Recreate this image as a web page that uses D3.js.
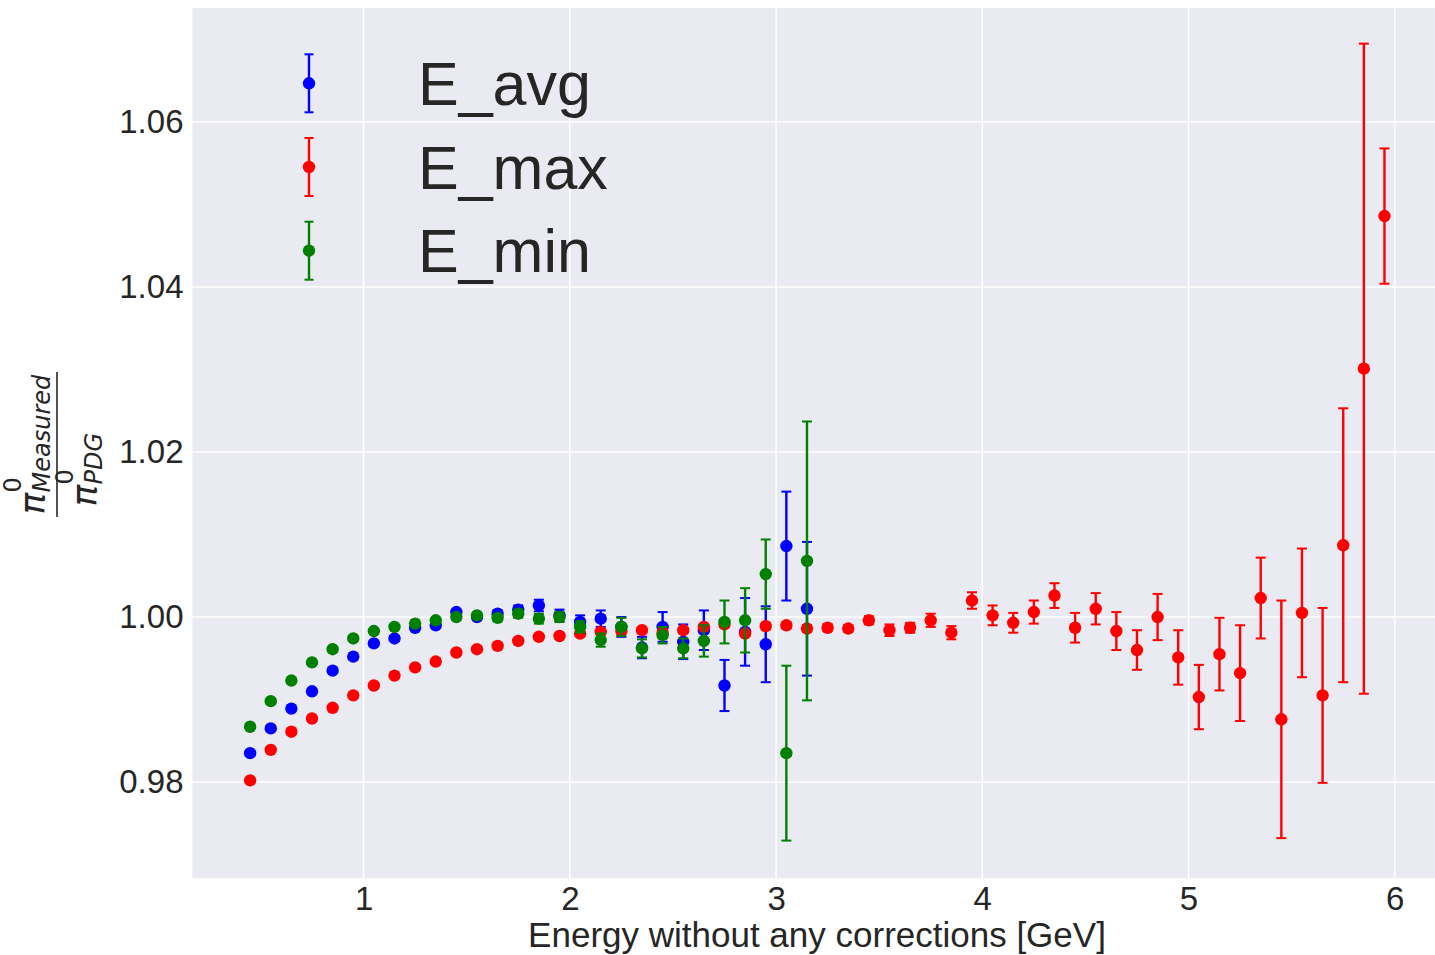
<!DOCTYPE html>
<html>
<head>
<meta charset="utf-8">
<script src="https://cdn.jsdelivr.net/npm/d3@7"></script>
<style>
  html, body { margin: 0; padding: 0; background: white; }
  svg { display: block; }
</style>
</head>
<body>
<div id="chart"></div>
<script>
// energies (GeV) of the E_avg / E_min points
var energyShort = [0.45, 0.55, 0.65, 0.75, 0.85, 0.95, 1.05, 1.15, 1.25, 1.35,
  1.45, 1.55, 1.65, 1.75, 1.85, 1.95, 2.05, 2.15, 2.25, 2.35,
  2.45, 2.55, 2.65, 2.75, 2.85, 2.95, 3.05, 3.15];

// energies (GeV) of the E_max points
var energyLong = [0.45, 0.55, 0.65, 0.75, 0.85, 0.95, 1.05, 1.15, 1.25, 1.35,
  1.45, 1.55, 1.65, 1.75, 1.85, 1.95, 2.05, 2.15, 2.25, 2.35,
  2.45, 2.55, 2.65, 2.75, 2.85, 2.95, 3.05, 3.15, 3.25, 3.35,
  3.45, 3.55, 3.65, 3.75, 3.85, 3.95, 4.05, 4.15, 4.25, 4.35,
  4.45, 4.55, 4.65, 4.75, 4.85, 4.95, 5.05, 5.15, 5.25, 5.35,
  5.45, 5.55, 5.65, 5.75, 5.85, 5.95];

var avgValues = [0.9835, 0.9865, 0.9889, 0.9910, 0.9935, 0.9952, 0.9968, 0.9974, 0.9987, 0.9990,
  1.0006, 1.0000, 1.0004, 1.0009, 1.0014, 1.0002, 0.9994, 0.9998, 0.9988, 0.9963,
  0.9988, 0.9970, 0.9984, 0.9917, 0.9982, 0.9967, 1.0086, 1.0010];
var avgErrors = [0.0002, 0.0002, 0.0002, 0.0002, 0.0002, 0.0002, 0.0002, 0.0002, 0.0002, 0.0002,
  0.0003, 0.0003, 0.0004, 0.0005, 0.0007, 0.0007, 0.0008, 0.0010, 0.0012, 0.0013,
  0.0018, 0.0021, 0.0024, 0.0031, 0.0041, 0.0046, 0.0066, 0.0081];

var maxValues = [0.9802, 0.9839, 0.9861, 0.9877, 0.9890, 0.9905, 0.9917, 0.9929, 0.9939, 0.9946,
  0.9957, 0.9961, 0.9965, 0.9971, 0.9976, 0.9977, 0.9980, 0.9982, 0.9983, 0.9984,
  0.9981, 0.9984, 0.9988, 0.9991, 0.9980, 0.9989, 0.9990, 0.9986, 0.9987, 0.9986,
  0.9996, 0.9984, 0.9987, 0.9996, 0.9981, 1.0020, 1.0002, 0.9993, 1.0006, 1.0026,
  0.9987, 1.0010, 0.9983, 0.9960, 1.0000, 0.9951, 0.9903, 0.9955, 0.9932, 1.0023,
  0.9876, 1.0005, 0.9905, 1.0087, 1.0301, 1.0486];
var maxErrors = [0.0002, 0.0002, 0.0002, 0.0002, 0.0002, 0.0002, 0.0002, 0.0002, 0.0002, 0.0002,
  0.0002, 0.0002, 0.0003, 0.0003, 0.0003, 0.0003, 0.0003, 0.0003, 0.0003, 0.0003,
  0.0003, 0.0003, 0.0003, 0.0003, 0.0003, 0.0004, 0.0004, 0.0004, 0.0004, 0.0004,
  0.0005, 0.0007, 0.0006, 0.0008, 0.0008, 0.0010, 0.0012, 0.0012, 0.0014, 0.0015,
  0.0018, 0.0019, 0.0023, 0.0024, 0.0028, 0.0033, 0.0039, 0.0044, 0.0058, 0.0049,
  0.0144, 0.0078, 0.0106, 0.0166, 0.0394, 0.0082];

var minValues = [0.9867, 0.9898, 0.9923, 0.9945, 0.9961, 0.9974, 0.9983, 0.9988, 0.9992, 0.9996,
  1.0000, 1.0002, 0.9999, 1.0004, 0.9998, 1.0000, 0.9988, 0.9972, 0.9988, 0.9962,
  0.9978, 0.9962, 0.9971, 0.9994, 0.9996, 1.0052, 0.9835, 1.0068];
var minErrors = [0.0002, 0.0002, 0.0002, 0.0002, 0.0002, 0.0002, 0.0002, 0.0002, 0.0002, 0.0002,
  0.0003, 0.0003, 0.0004, 0.0005, 0.0006, 0.0006, 0.0007, 0.0008, 0.0011, 0.0011,
  0.0010, 0.0012, 0.0019, 0.0026, 0.0039, 0.0042, 0.0106, 0.0169];

var xTicks = [1, 2, 3, 4, 5, 6];
var yTicks = [0.98, 1.00, 1.02, 1.04, 1.06];

var seriesNames = ["E_avg", "E_max", "E_min"];
var seriesColors = ["#0000ff", "#ff0000", "#008000"];

var
  WIDTH = 1435,
  HEIGHT = 955,

  // plot area, in pixels
  PLOT_LEFT = 192.5,
  PLOT_TOP = 8,
  PLOT_RIGHT = 1435,
  PLOT_BOTTOM = 878.3,

  BACKGROUND = "#eaeaf2",
  TEXT_COLOR = "#262626",
  FONT = "'Liberation Sans', Arial, sans-serif",

  MARKER_RADIUS = 6.2,
  CAP_HALF_WIDTH = 5;

var svg = d3.select("#chart").append("svg")
  .attr("width", WIDTH)
  .attr("height", HEIGHT);

svg.append("rect")
  .attr("width", WIDTH).attr("height", HEIGHT)
  .attr("fill", "white");

var x = d3.scaleLinear().domain([0.1706, 6.195]).range([PLOT_LEFT, PLOT_RIGHT]);
var y = d3.scaleLinear().domain([0.96833, 1.07382]).range([PLOT_BOTTOM, PLOT_TOP]);

svg.append("rect")
  .attr("x", PLOT_LEFT).attr("y", PLOT_TOP)
  .attr("width", PLOT_RIGHT - PLOT_LEFT)
  .attr("height", PLOT_BOTTOM - PLOT_TOP)
  .attr("fill", BACKGROUND);

// grid lines
var grid = svg.append("g").attr("stroke", "white").attr("stroke-width", 1.5);
xTicks.forEach(function(t){
  grid.append("line")
    .attr("x1", x(t)).attr("x2", x(t))
    .attr("y1", PLOT_TOP).attr("y2", PLOT_BOTTOM);
});
yTicks.forEach(function(t){
  grid.append("line")
    .attr("x1", PLOT_LEFT).attr("x2", PLOT_RIGHT)
    .attr("y1", y(t)).attr("y2", y(t));
});

// axes: only the labels are shown, seaborn style
var xAxis = svg.append("g")
  .attr("transform", "translate(0," + PLOT_BOTTOM + ")")
  .call(d3.axisBottom(x).tickValues(xTicks).tickSize(0).tickPadding(8).tickFormat(d3.format("d")));
var yAxis = svg.append("g")
  .attr("transform", "translate(" + PLOT_LEFT + ",0)")
  .call(d3.axisLeft(y).tickValues(yTicks).tickSize(0).tickPadding(9).tickFormat(d3.format(".2f")));

[xAxis, yAxis].forEach(function(axis){
  axis.select(".domain").remove();
  axis.selectAll("text")
    .attr("fill", TEXT_COLOR)
    .style("font-family", FONT)
    .style("font-size", "33px");
});

svg.append("text")
  .attr("x", 817)
  .attr("y", 947)
  .attr("text-anchor", "middle")
  .attr("fill", TEXT_COLOR)
  .style("font-family", FONT)
  .style("font-size", "35px")
  .text("Energy without any corrections [GeV]");

// y label: pi0 measured over pi0 PDG, drawn rotated
var yLabel = svg.append("g")
  .attr("transform", "translate(57,444.5) rotate(-90)")
  .attr("fill", TEXT_COLOR)
  .style("font-family", "'DejaVu Sans', sans-serif")
  .style("font-style", "italic");

yLabel.append("line")
  .attr("x1", -72.5).attr("x2", 72.5)
  .attr("y1", 0).attr("y2", 0)
  .attr("stroke", TEXT_COLOR).attr("stroke-width", 1.6);

function drawPiTerm(g, left, baseline, subText){
  g.append("text").attr("x", left).attr("y", baseline)
    .style("font-size", "36px").text("\u03c0");
  g.append("text").attr("x", left + 22).attr("y", baseline - 24)
    .style("font-size", "24px").style("font-style", "normal").text("0");
  g.append("text").attr("x", left + 22).attr("y", baseline + 5)
    .style("font-size", "24px").text(subText);
}
drawPiTerm(yLabel, -70, -12, "Measured");
drawPiTerm(yLabel, -62, 40, "PDG");

// error bars and markers, one group per series
function drawSeries(energies, values, errors, color){
  var g = svg.append("g");
  var bars = g.append("g").attr("stroke", color).attr("stroke-width", 2.4);
  energies.forEach(function(e, i){
    var cx = x(e),
      top = y(values[i] + errors[i]),
      bottom = y(values[i] - errors[i]);
    bars.append("line").attr("x1", cx).attr("x2", cx).attr("y1", top).attr("y2", bottom);
    bars.append("line").attr("x1", cx - CAP_HALF_WIDTH).attr("x2", cx + CAP_HALF_WIDTH)
      .attr("y1", top).attr("y2", top).attr("stroke-width", 2);
    bars.append("line").attr("x1", cx - CAP_HALF_WIDTH).attr("x2", cx + CAP_HALF_WIDTH)
      .attr("y1", bottom).attr("y2", bottom).attr("stroke-width", 2);
  });
  g.selectAll("circle").data(energies).enter().append("circle")
    .attr("cx", function(e){ return x(e); })
    .attr("cy", function(e, i){ return y(values[i]); })
    .attr("r", MARKER_RADIUS)
    .attr("fill", color);
}

drawSeries(energyShort, avgValues, avgErrors, seriesColors[0]);
drawSeries(energyLong, maxValues, maxErrors, seriesColors[1]);
drawSeries(energyShort, minValues, minErrors, seriesColors[2]);

// legend
var legend = svg.append("g");
seriesNames.forEach(function(name, i){
  var cy = 83.3 + i * 83.7,
    lx = 309;
  legend.append("line")
    .attr("x1", lx).attr("x2", lx).attr("y1", cy - 29).attr("y2", cy + 29)
    .attr("stroke", seriesColors[i]).attr("stroke-width", 2.4);
  [cy - 29, cy + 29].forEach(function(capY){
    legend.append("line")
      .attr("x1", lx - 4.5).attr("x2", lx + 4.5).attr("y1", capY).attr("y2", capY)
      .attr("stroke", seriesColors[i]).attr("stroke-width", 2);
  });
  legend.append("circle").attr("cx", lx).attr("cy", cy).attr("r", MARKER_RADIUS)
    .attr("fill", seriesColors[i]);
  legend.append("text")
    .attr("x", 418).attr("y", cy + 21.7)
    .attr("fill", TEXT_COLOR)
    .style("font-family", FONT)
    .style("font-size", "61px")
    .text(name);
});
</script>
</body>
</html>
